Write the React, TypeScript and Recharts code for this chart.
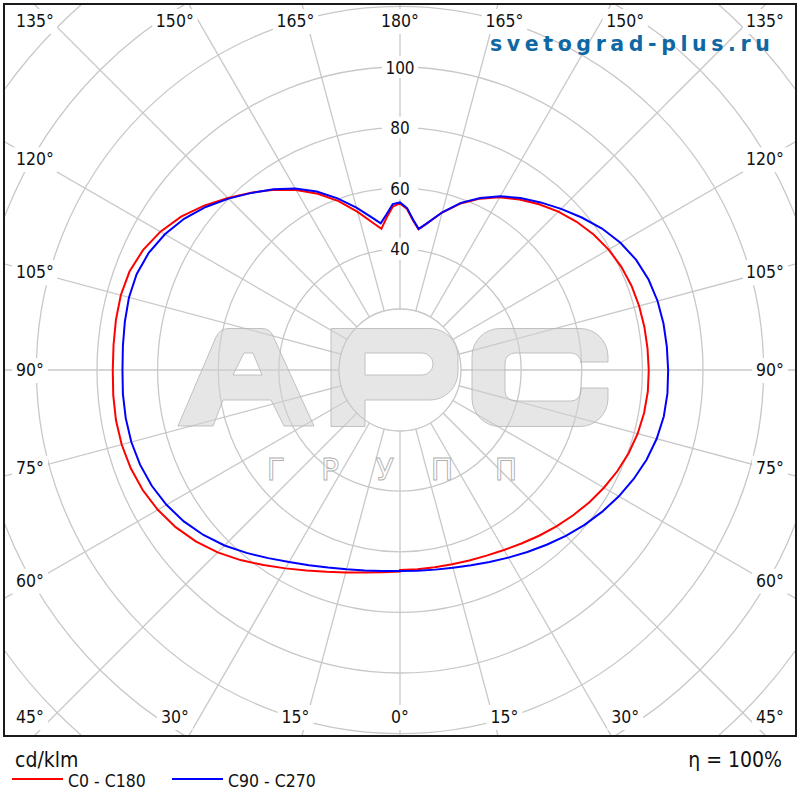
import React from "react";
import { PolarAngleAxis, PolarGrid, PolarRadiusAxis, Radar, RadarChart } from "recharts";

// gamma angles of the measured points, degrees
const gammas = [
  0, 5, 10, 15, 20, 25, 30, 35, 40, 45, 50, 55, 60, 65, 70, 75, 80, 85, 90, 95, 100, 105, 110, 115, 120, 125,
  130, 135, 140, 145, 150, 155, 160, 165, 170, 172.5, 175, 177.5, 180,
];

// cd/klm, right half (0..180)
const c0 = [
  66.0, 66.0, 66.1, 66.4, 66.9, 67.6, 68.6, 69.9, 71.4, 73.0, 74.6, 76.2, 77.7, 79.1, 80.3, 81.2, 81.8, 82.1, 82.1,
  82.0, 81.9, 81.7, 81.3, 80.6, 79.5, 78.0, 76.1, 73.9, 71.4, 68.7, 65.8, 62.4, 58.5, 53.8, 48.8, 46.8, 49.5, 53.2,
  55.0,
];
const c90 = [
  66.3, 66.5, 66.9, 67.6, 68.6, 69.9, 71.5, 73.3, 75.3, 77.4, 79.5, 81.5, 83.4, 85.1, 86.6, 87.7, 88.4, 88.6, 88.5,
  88.4, 88.3, 88.0, 87.3, 86.0, 84.0, 81.4, 78.3, 75.2, 72.2, 69.3, 66.2, 62.6, 58.7, 53.9, 48.9, 47.0, 49.8, 53.5,
  55.3,
];
// left half (0..177.5), the 180 point is shared with the right half
const c180 = [
  66.5, 67.0, 67.9, 69.2, 70.9, 73.0, 75.6, 78.6, 81.9, 85.1, 88.0, 90.4, 92.3, 93.7, 94.6, 95.1, 95.2, 95.0, 94.8,
  94.9, 95.2, 95.4, 95.0, 93.6, 91.3, 88.2, 84.4, 80.3, 76.4, 72.6, 68.6, 64.2, 59.3, 54.0, 49.0, 47.0, 50.5, 54.0,
];
const c270 = [
  66.3, 66.6, 67.2, 68.1, 69.4, 71.1, 73.2, 75.8, 78.8, 81.9, 84.7, 87.1, 89.0, 90.4, 91.3, 91.8, 91.9, 91.8, 91.6,
  91.8, 92.2, 92.6, 92.5, 91.5, 89.6, 87.0, 83.7, 80.0, 76.3, 72.8, 69.2, 65.0, 60.3, 55.5, 50.8, 48.8, 51.5, 54.8,
];

const angleTicks = [0, 15, 30, 45, 60, 75, 90, 105, 120, 135, 150, 165, 180, 195, 210, 225, 240, 255, 270, 285, 300, 315, 330, 345];
const radiusTicks = [0, 20, 40, 60, 80, 100, 120, 140, 160, 180];
const radiusLabels = [40, 60, 80, 100];

// position around the full circle: right half 0..180, left half 180..360
const tableData = [
  ...gammas.map((g, i) => ({ pos: g, red: c0[i], blue: c90[i] })),
  ...gammas
    .slice(0, -1)
    .map((g, i) => ({ pos: 360 - g, red: c180[i], blue: c270[i] }))
    .reverse(),
];

const FONT = "'DejaVu Sans Condensed', 'DejaVu Sans', Tahoma, sans-serif";
const LOGO_FONT = "'DejaVu Sans', Verdana, sans-serif";
const CX = 395;
const CY = 365;
const GRID = "#c8c8c8";

function AngleTick(props: any) {
  const { payload } = props;
  const a = (payload.coordinate * Math.PI) / 180;
  const dx = Math.cos(a);
  const dy = -Math.sin(a);
  const tx = Math.abs(dx) > 1e-6 ? 365 / Math.abs(dx) : Infinity;
  const ty = Math.abs(dy) > 1e-6 ? 390 / Math.abs(dy) : Infinity;
  const t = Math.min(tx, ty);
  const px = CX + t * dx;
  const py = Math.max(CY - 349, Math.min(CY + 347, CY + t * dy));
  const v = payload.value <= 180 ? payload.value : 360 - payload.value;
  const label = `${v}°`;
  const w = label.length * 9.3;
  let anchor = "middle";
  let x = px;
  let left = px - w / 2;
  if (px < CX - 364) {
    anchor = "start";
    x = 11;
    left = 11;
  } else if (px > CX + 364) {
    anchor = "end";
    x = 779;
    left = 779 - w;
  }
  return (
    <g>
      <rect x={left - 4} y={py - 12} width={w + 8} height={25} fill="#fff" />
      <text x={x} y={py + 6} textAnchor={anchor} fontSize={17.5} fontFamily={FONT} fill="#111">
        {label}
      </text>
    </g>
  );
}

function RadiusTick(props: any) {
  const { x, y, payload } = props;
  if (!radiusLabels.includes(payload.value)) return <g />;
  return (
    <g>
      <rect x={x - 18} y={y - 11} width={36} height={22} fill="#fff" />
      <text x={x} y={y + 6.5} textAnchor="middle" fontSize={17} fontFamily={FONT} fill="#111">
        {payload.value}
      </text>
    </g>
  );
}

const letterStyle = {
  fill: "#d2d2d2",
  fillOpacity: 0.55,
  stroke: "#b4b4b4",
  strokeWidth: 0.8,
  fillRule: "evenodd" as const,
};

export default function App() {
  return (
    <div style={{ position: "absolute", left: 0, top: 0, width: 800, height: 800, background: "#fff", fontFamily: FONT }}>
      <div
        style={{
          position: "absolute",
          left: 3,
          top: 3,
          width: 794,
          height: 734,
          border: "2px solid #1a1a1a",
          boxSizing: "border-box",
          overflow: "hidden",
        }}
      >
        <RadarChart
          width={790}
          height={730}
          data={tableData}
          cx={CX}
          cy={CY}
          outerRadius={545.4}
          startAngle={-90}
          endAngle={270}
          margin={{ top: 0, right: 0, bottom: 0, left: 0 }}
        >
          <PolarGrid gridType="circle" stroke={GRID} strokeWidth={1.3} />
          <PolarAngleAxis
            dataKey="pos"
            type="number"
            domain={[0, 360]}
            ticks={angleTicks}
            axisLine={false}
            tickLine={false}
            tick={AngleTick}
          />
          <PolarRadiusAxis
            angle={90}
            type="number"
            domain={[0, 180]}
            ticks={radiusTicks}
            axisLine={false}
            tickLine={false}
            tick={RadiusTick}
          />
          <Radar dataKey="red" stroke="#ff0000" strokeWidth={2} fill="none" fillOpacity={0} dot={false} isAnimationActive={false} />
          <Radar dataKey="blue" stroke="#0000ff" strokeWidth={2} fill="none" fillOpacity={0} dot={false} isAnimationActive={false} />
        </RadarChart>
      </div>

      <svg width={800} height={800} style={{ position: "absolute", left: 0, top: 0, pointerEvents: "none" }}>
        {/* watermark */}
        <circle cx={400} cy={370} r={61} fill="#fff" stroke="none" />
        <path
          d="M178 426 L216 337 Q220 328.5 229 328.5 L262 328.5 Q270 328.5 273 336 L314 426 L284 426 L271 400 L223 400 L213 426 Z M233 375 L244 353 L253 353 L262 375 Z"
          style={letterStyle}
        />
        <path
          d="M331 328.5 L430 328.5 A28 28 0 0 1 458 356.5 L458 372 A28 28 0 0 1 430 400 L365 400 L365 426.5 L331 426.5 Z M365 353 L422 353 A11 11 0 0 1 422 375 L365 375 Z"
          style={letterStyle}
        />
        <path
          d="M608 362 L608 356 A28 28 0 0 0 580 328.5 L500 328.5 A28 28 0 0 0 472 356.5 L472 399 A28 28 0 0 0 500 426.5 L580 426.5 A28 28 0 0 0 608 399 L608 388 L581 388 L581 391 A10 10 0 0 1 571 401 L515 401 A10 10 0 0 1 505 391 L505 363 A10 10 0 0 1 515 353 L571 353 A10 10 0 0 1 581 363 L581 362 Z"
          style={letterStyle}
        />
        <circle cx={400} cy={370} r={61} fill="none" stroke={GRID} strokeWidth={1.3} />
        {["Г", "Р", "У", "П", "П"].map((ch, i) => (
          <text
            key={i}
            x={[276, 330, 385, 442, 506][i]}
            y={480}
            textAnchor="middle"
            fontSize={30}
            fontFamily={LOGO_FONT}
            fill="#fff"
            fillOpacity={0.7}
            stroke="#b0b0b0"
            strokeWidth={0.9}
          >
            {ch}
          </text>
        ))}

        {/* site name */}
        <text x={490} y={51} fontSize={20.5} fontWeight="bold" fontFamily={LOGO_FONT} fill="#0f68a3" letterSpacing={4.6}>
          svetograd-plus.ru
        </text>

        {/* units, efficiency, legend */}
        <text x={15} y={767} fontSize={21} fontFamily={FONT} fill="#111">
          cd/klm
        </text>
        <text x={782} y={767} textAnchor="end" fontSize={21} fontFamily={FONT} fill="#111">
          η = 100%
        </text>
        <line x1={12} x2={63} y1={779} y2={779} stroke="#ff0000" strokeWidth={2} />
        <text x={68} y={787} fontSize={17.5} fontFamily={FONT} fill="#111">
          C0 - C180
        </text>
        <line x1={172} x2={223} y1={779} y2={779} stroke="#0000ff" strokeWidth={2} />
        <text x={228} y={787} fontSize={17.5} fontFamily={FONT} fill="#111">
          C90 - C270
        </text>
      </svg>
    </div>
  );
}
